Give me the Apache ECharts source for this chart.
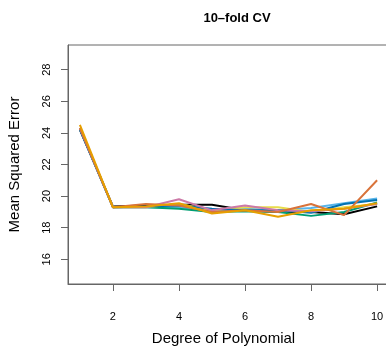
<!DOCTYPE html>
<html>
<head>
<meta charset="utf-8">
<script src="https://cdn.jsdelivr.net/npm/echarts@6/dist/echarts.min.js"></script>
<style>
  html, body { margin: 0; padding: 0; background: #fff; }
  #chart { width: 386px; height: 346px; }
</style>
</head>
<body>
<div id="chart"></div>
<script>
// degree of polynomial
var degrees = [1, 2, 3, 4, 5, 6, 7, 8, 9, 10];
// one curve per 10-fold CV run
var runBlack  = [24.2, 19.35, 19.4, 19.45, 19.45, 19.1, 19.0, 19.0, 18.85, 19.35];
var runSky    = [24.3, 19.3, 19.3, 19.3, 19.1, 19.2, 19.1, 19.25, 19.55, 19.85];
var runGreen  = [24.3, 19.3, 19.3, 19.2, 19.0, 19.05, 19.0, 18.75, 19.0, 19.6];
var runYellow = [24.3, 19.3, 19.3, 19.5, 19.1, 19.3, 19.3, 19.0, 19.3, 19.5];
var runBlue   = [24.2, 19.3, 19.35, 19.4, 19.2, 19.1, 19.1, 18.95, 19.5, 19.75];
var runPink   = [24.3, 19.3, 19.3, 19.8, 19.1, 19.4, 19.1, 19.05, 19.2, 19.5];
var runRed    = [24.3, 19.3, 19.5, 19.4, 19.0, 19.1, 19.0, 19.5, 18.8, 21.0];
var runGold   = [24.5, 19.3, 19.35, 19.55, 18.9, 19.1, 18.7, 19.1, 19.2, 19.55];
var xTicks = [2, 4, 6, 8, 10];
var yTicks = [16, 18, 20, 22, 24, 26, 28];

var runs = [
  { vals: runBlack,  color: '#000000' },
  { vals: runSky,    color: '#56B4E9' },
  { vals: runGreen,  color: '#009E73' },
  { vals: runYellow, color: '#E8DC4A' },
  { vals: runBlue,   color: '#0072B2' },
  { vals: runPink,   color: '#CC79A7' },
  { vals: runRed,    color: '#D9733A' },
  { vals: runGold,   color: '#E69F00' }
];

var font = 'Liberation Sans, Arial, sans-serif';
var chart = echarts.init(document.getElementById('chart'));

chart.setOption({
  animation: false,
  title: {
    text: '10\u2013fold CV',
    left: 232, top: 7,
    textAlign: 'center',
    textStyle: { fontFamily: font, fontSize: 13, fontWeight: 'bold', color: '#000' }
  },
  grid: {
    left: 68, top: 45, width: 321, height: 239,
    outerBoundsMode: 'none', containLabel: false,
    show: true, borderColor: '#666', borderWidth: 1
  },
  xAxis: {
    type: 'value',
    min: 0.64, max: 10.36,
    name: 'Degree of Polynomial',
    nameLocation: 'middle', nameGap: 47,
    nameTextStyle: { fontFamily: font, fontSize: 15, color: '#000', padding: [0, 0, 0, -10] },
    axisLine: { show: true, onZero: false, lineStyle: { color: '#666' } },
    axisTick: { show: true, length: 7, customValues: xTicks, lineStyle: { color: '#666' } },
    axisLabel: { customValues: xTicks, fontFamily: font, fontSize: 11, color: '#000', margin: 27 },
    splitLine: { show: false }
  },
  yAxis: {
    type: 'value',
    min: 14.44, max: 29.56,
    name: 'Mean Squared Error',
    nameLocation: 'middle', nameGap: 46,
    nameTextStyle: { fontFamily: font, fontSize: 15, color: '#000' },
    axisLine: { show: true, onZero: false, lineStyle: { color: '#666' } },
    axisTick: { show: true, length: 7, customValues: yTicks, lineStyle: { color: '#666' } },
    axisLabel: { customValues: yTicks, rotate: 90, fontFamily: font, fontSize: 11, color: '#000', margin: 16 },
    splitLine: { show: false }
  },
  series: runs.map(function (r) {
    return {
      type: 'line',
      data: degrees.map(function (d, i) { return [d, r.vals[i]]; }),
      showSymbol: false,
      lineStyle: { color: r.color, width: 2 },
      itemStyle: { color: r.color }
    };
  })
});
</script>
</body>
</html>
